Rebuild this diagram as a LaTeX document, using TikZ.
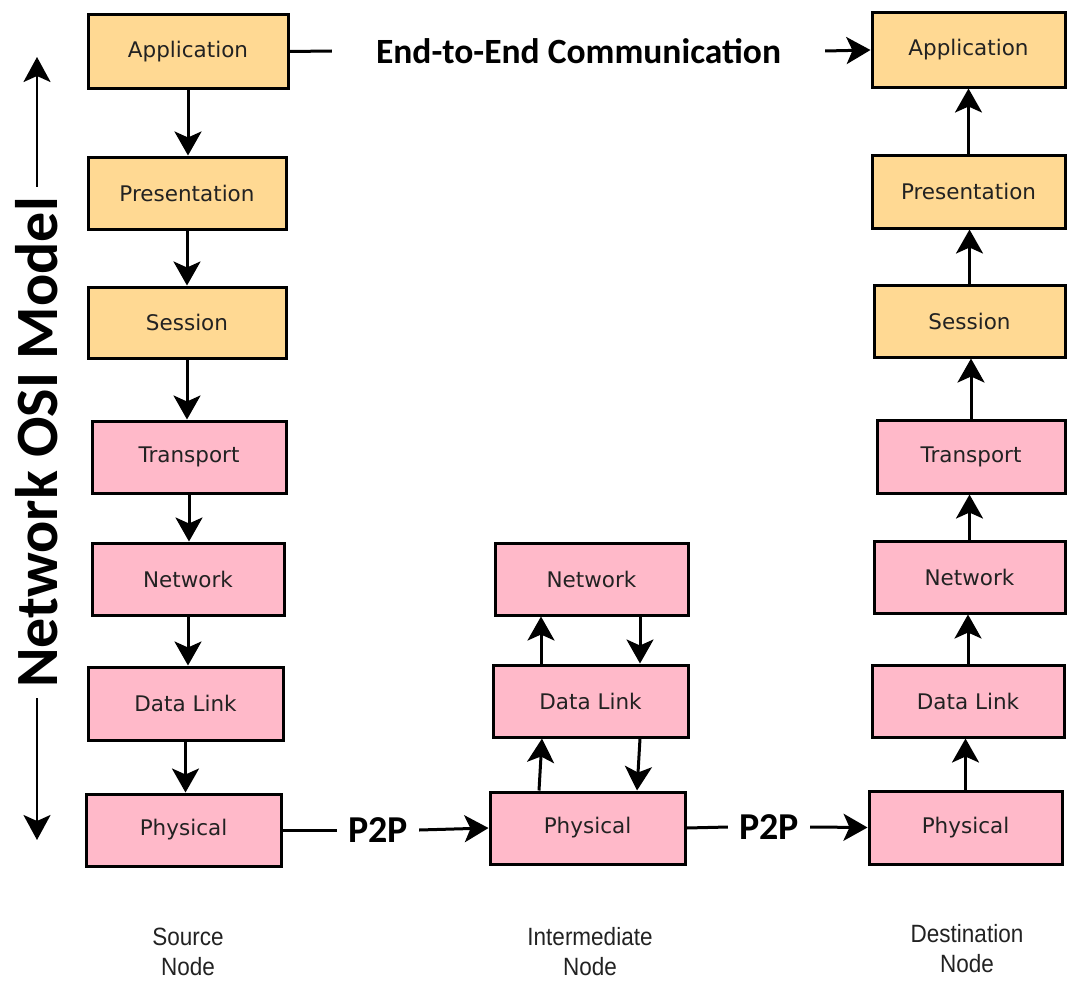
\documentclass[tikz,border=0pt]{standalone}
\usepackage{fontspec}
\setmainfont{DejaVu Sans}
\newfontfamily\headfont{Carlito}
\newfontfamily\capfont[FakeStretch=0.9]{Liberation Sans}
\usetikzlibrary{arrows.meta}
\definecolor{upperfill}{HTML}{FFD993}
\definecolor{lowerfill}{HTML}{FFB9C9}
\definecolor{boxtext}{HTML}{222222}
\tikzset{
  layer/.style={draw=black, line width=3pt, minimum height=72pt,
    font=\fontsize{21.5}{23}\selectfont, text=boxtext, inner sep=0pt},
  upper/.style={layer, fill=upperfill},
  lower/.style={layer, fill=lowerfill},
  flow/.style={line width=3pt, -{Stealth[length=24pt,width=27pt,inset=6pt]}},
  plain/.style={line width=3pt},
  big/.style={font=\headfont\bfseries\fontsize{35.5}{37}\selectfont},
  hoplabel/.style={font=\headfont\bfseries\fontsize{38}{40}\selectfont, inner xsep=11pt},
  caption/.style={font=\capfont\fontsize{25}{30}\selectfont, align=center, text=boxtext},
}
\begin{document}
\begin{tikzpicture}[x=1pt, y=-1pt]
\useasboundingbox (0,0) rectangle (1067,982);

% source stack
\node[upper, minimum width=200pt, minimum height=73pt] (sApp) at (188,51.5) {Application};
\node[upper, minimum width=198pt] (sPre) at (187,193) {Presentation};
\node[upper, minimum width=198pt, minimum height=71pt] (sSes) at (187,322.5) {Session};
\node[lower, minimum width=194pt] (sTra) at (189,457) {Transport};
\node[lower, minimum width=192pt] (sNet) at (188,579) {Network};
\node[lower, minimum width=195pt, minimum height=73pt] (sDL) at (185.5,703.5) {Data Link};
\node[lower, minimum width=195pt] (sPhy) at (183.5,830) {Physical};

% intermediate stack
\node[lower, minimum width=193pt] (iNet) at (591.5,579) {Network};
\node[lower, minimum width=195pt] (iDL) at (590.5,701) {Data Link};
\node[lower, minimum width=195pt] (iPhy) at (587.5,828) {Physical};

% destination stack
\node[upper, minimum width=193pt, minimum height=74pt] (dApp) at (968.5,50) {Application};
\node[upper, minimum width=193pt, minimum height=73pt] (dPre) at (968.5,191.5) {Presentation};
\node[upper, minimum width=191pt] (dSes) at (969.5,321) {Session};
\node[lower, minimum width=188pt, minimum height=73pt] (dTra) at (971,456.5) {Transport};
\node[lower, minimum width=191pt] (dNet) at (969.5,577) {Network};
\node[lower, minimum width=192pt] (dDL) at (968,701) {Data Link};
\node[lower, minimum width=193pt, minimum height=73pt] (dPhy) at (965.5,827.5) {Physical};

% downward path through the source node
\foreach \a/\b in {sApp/sPre, sPre/sSes, sSes/sTra, sTra/sNet, sNet/sDL, sDL/sPhy}
  \draw[flow] (\a.south) -- (\a.south |- \b.north);

% upward path through the destination node
\foreach \a/\b in {dPhy/dDL, dDL/dNet, dNet/dTra, dTra/dSes, dSes/dPre, dPre/dApp}
  \draw[flow] (\a.north) -- (\a.north |- \b.south);

% relay at the intermediate node
\draw[flow] ([xshift=-48.5pt]iPhy.north) -- ([xshift=-48.5pt]iDL.south);
\draw[flow] ([xshift=-49.5pt]iDL.north) -- ([xshift=-49.5pt]iDL.north |- iNet.south);
\draw[flow] ([xshift=48.5pt]iNet.south) -- ([xshift=48.5pt]iNet.south |- iDL.north);
\draw[flow] ([xshift=49.5pt]iDL.south) -- ([xshift=49.5pt]iPhy.north);

% end-to-end link between application layers
\node[big, inner xsep=44pt] (e2e) at (578.5,51) {End-to-End Communication};
\draw[plain] (sApp.east) -- (e2e.west);
\draw[flow] (e2e.east) -- (dApp.west);

% point-to-point hops between physical layers
\node[hoplabel] (hop1) at (378,830) {P2P};
\draw[plain] (sPhy.east) -- (hop1.west);
\draw[flow] (hop1.east) -- (iPhy.west);
\node[hoplabel] (hop2) at (769,827) {P2P};
\draw[plain] (iPhy.east) -- (hop2.west);
\draw[flow] (hop2.east) -- (dPhy.west);

% model axis on the left
\node[font=\headfont\bfseries\fontsize{60}{62}\selectfont, rotate=90, inner sep=10pt] (osi) at (37,442.5) {Network OSI Model};
\coordinate (osiTop) at (37,57);
\coordinate (osiBot) at (37,840);
\draw[line width=2.5pt, -{Stealth[length=25pt,width=27pt,inset=6pt]}] (osi.east) -- (osiTop);
\draw[line width=2.5pt, -{Stealth[length=25pt,width=27pt,inset=6pt]}] (osi.west) -- (osiBot);

% column captions
\node[caption] (capS) at (188,952) {Source\\Node};
\node[caption] (capI) at (590,952) {Intermediate\\Node};
\node[caption] (capD) at (967,949) {Destination\\Node};
\end{tikzpicture}
\end{document}
